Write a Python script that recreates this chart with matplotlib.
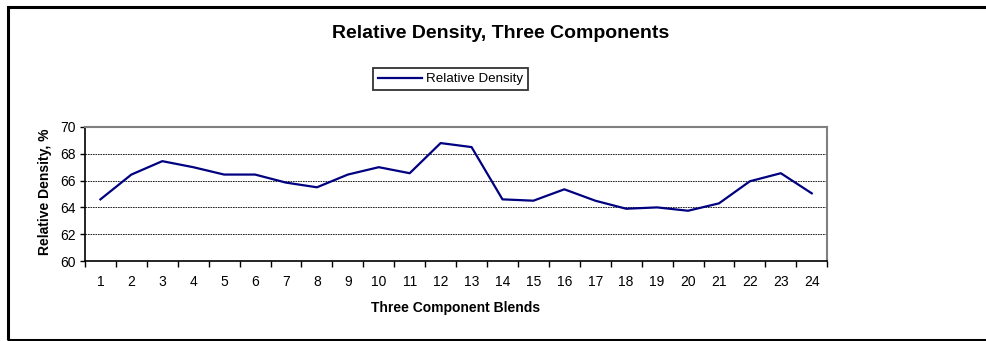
import matplotlib.pyplot as plt
from matplotlib.patches import Rectangle
import numpy as np

plt.rcParams['font.family'] = ['Liberation Sans', 'DejaVu Sans']

# three component blends 1..24
blends = list(range(1, 25))
rel_density = [64.6, 66.45, 67.45, 67.0, 66.45, 66.45, 65.85, 65.5,
               66.45, 67.0, 66.55, 68.8, 68.5, 64.6, 64.5, 65.35,
               64.5, 63.9, 64.0, 63.75, 64.3, 65.95, 66.55, 65.05]

fig = plt.figure(figsize=(9.87, 3.41), dpi=100)
ax = fig.add_axes([0.0861, 0.2346, 0.752, 0.393])

line, = ax.plot(blends, rel_density, color='#000080', lw=1.6, label='Relative Density')

ax.set_xlim(0.5, 24.5)
ax.set_ylim(60, 70)
ax.set_yticks([60, 62, 64, 66, 68, 70])
ax.set_xticks(np.arange(0.5, 25, 1))
ax.set_xticklabels([])
ax.set_xticks(blends, minor=True)
ax.set_xticklabels([str(b) for b in blends], minor=True)
ax.tick_params(axis='x', which='minor', length=0, pad=10, labelsize=10)
ax.tick_params(axis='x', which='major', length=4, width=1, direction='out')
ax.tick_params(axis='y', length=3.6, width=1, direction='out', labelsize=10, pad=3)

for yv in [62, 64, 66, 68]:
    ax.axhline(yv, color='black', lw=0.6, ls=(0, (2, 1)), zorder=0)

ax.spines['left'].set_color('black')
ax.spines['bottom'].set_color('black')
ax.spines['left'].set_linewidth(1.2)
ax.spines['bottom'].set_linewidth(1.2)
ax.spines['top'].set_color('#808080')
ax.spines['right'].set_color('#808080')
ax.spines['top'].set_linewidth(1.5)
ax.spines['right'].set_linewidth(1.5)

fig.text(456 / 987, 1 - 308 / 341, 'Three Component Blends', ha='center', va='center',
         fontsize=10, fontweight='bold')
fig.text(45 / 987, 1 - 192 / 341, 'Relative Density, %', ha='center', va='center',
         rotation=90, fontsize=10, fontweight='bold')

fig.text(0.507, 1 - 34 / 341, 'Relative Density, Three Components', ha='center', va='center',
         fontsize=14, fontweight='bold')

leg = fig.legend(handles=[line], loc='center', bbox_to_anchor=(450.5 / 987, 1 - 79 / 341),
                 fontsize=9.6, frameon=True, fancybox=False, handlelength=3.3,
                 handletextpad=0.35, borderpad=0.35, borderaxespad=0)
leg.get_frame().set_edgecolor('black')
leg.get_frame().set_linewidth(1.3)

# outer chart border (right side runs off the image)
fig.patches.append(Rectangle((8.5 / 987, 1 / 341), 1.2, 1 - 7.5 / 341,
                             transform=fig.transFigure, fill=False,
                             edgecolor='black', lw=2.2))

fig.savefig('out.png', dpi=100)
